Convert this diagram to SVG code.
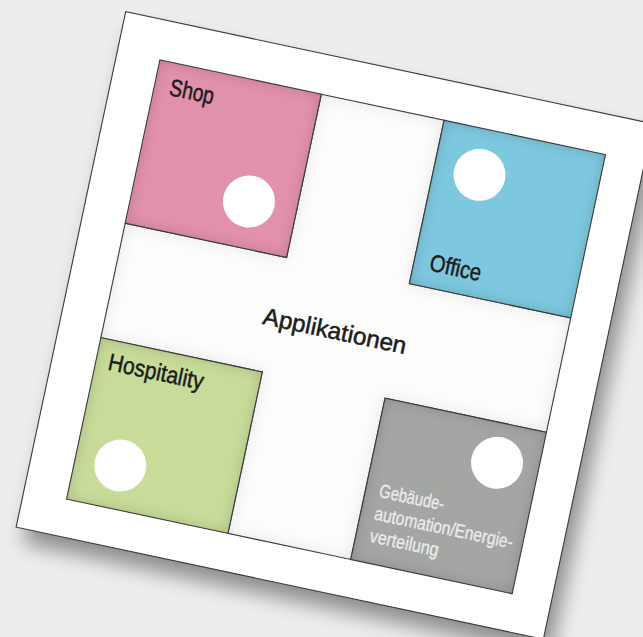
<svg xmlns="http://www.w3.org/2000/svg" width="643" height="637" viewBox="0 0 643 637">
<defs>
<filter id="drop" x="-20%" y="-20%" width="140%" height="140%">
<feGaussianBlur stdDeviation="10"/>
</filter>
<filter id="inset" x="-10%" y="-10%" width="120%" height="120%">
<feFlood flood-color="#000" flood-opacity="0.35" result="f"/>
<feComposite in="f" in2="SourceAlpha" operator="out" result="o"/>
<feGaussianBlur in="o" stdDeviation="7" result="b"/>
<feComposite in="b" in2="SourceAlpha" operator="in" result="s"/>
<feMerge><feMergeNode in="SourceGraphic"/><feMergeNode in="s"/></feMerge>
</filter>
<filter id="insetLight" x="-10%" y="-10%" width="120%" height="120%">
<feFlood flood-color="#000" flood-opacity="0.22" result="f"/>
<feComposite in="f" in2="SourceAlpha" operator="out" result="o"/>
<feGaussianBlur in="o" stdDeviation="8" result="b"/>
<feComposite in="b" in2="SourceAlpha" operator="in" result="s"/>
<feMerge><feMergeNode in="SourceGraphic"/><feMergeNode in="s"/></feMerge>
</filter>
</defs>
<style>
.edge{stroke:#3a3a3a;stroke-width:1.1}
.lbl{font-family:"Liberation Sans",Arial,sans-serif;font-size:24px;fill:#1c1c1c;stroke:#1c1c1c;stroke-width:0.5}
.lbl2{font-family:"Liberation Sans",Arial,sans-serif;font-size:19px;fill:#ececec;stroke:#ececec;stroke-width:0.3}
.dot{fill:#fff}
</style>
<rect width="643" height="637" fill="#ededed"/>
<g transform="translate(125.7 11.7) rotate(12)">
<rect x="10" y="14" width="539" height="527" fill="#000" opacity="0.4" filter="url(#drop)"/>
<g id="card">
<rect x="0" y="0" width="539" height="527" fill="#fff" class="edge"/>
</g>
<g id="applikationen">
<path d="M208.5 40H334V207H499V324H334V489H208.5V324H43.5V207H208.5Z" fill="#fdfdfd" filter="url(#insetLight)"/>
<path d="M208.5 40H334V207H499V324H334V489H208.5V324H43.5V207H208.5Z" fill="none" class="edge"/>
<text class="lbl" x="198" y="277" textLength="146" lengthAdjust="spacingAndGlyphs">Applikationen</text>
</g>
<g id="shop">
<rect x="43.5" y="40" width="165" height="167" fill="#e291ad" filter="url(#inset)"/>
<rect x="43.5" y="40" width="165" height="167" fill="none" class="edge"/>
<circle class="dot" cx="160" cy="160" r="26"/>
<text class="lbl" x="59" y="72.5" textLength="45" lengthAdjust="spacingAndGlyphs">Shop</text>
</g>
<g id="office">
<rect x="334" y="40" width="165" height="167" fill="#7ec8df" filter="url(#inset)"/>
<rect x="334" y="40" width="165" height="167" fill="none" class="edge"/>
<circle class="dot" cx="380" cy="86" r="26"/>
<text class="lbl" x="350" y="190" textLength="52" lengthAdjust="spacingAndGlyphs">Office</text>
</g>
<g id="hospitality">
<rect x="43.5" y="324" width="165" height="165" fill="#c8dc9a" filter="url(#inset)"/>
<rect x="43.5" y="324" width="165" height="165" fill="none" class="edge"/>
<circle class="dot" cx="89" cy="445" r="26"/>
<text class="lbl" x="56" y="354" textLength="97" lengthAdjust="spacingAndGlyphs">Hospitality</text>
</g>
<g id="gebaeude">
<rect x="334" y="324" width="165" height="165" fill="#a4a6a4" filter="url(#inset)"/>
<rect x="334" y="324" width="165" height="165" fill="none" class="edge"/>
<circle class="dot" cx="457" cy="364" r="26"/>
<text class="lbl2" x="348" y="422" textLength="66" lengthAdjust="spacingAndGlyphs">Gebäude-</text>
<text class="lbl2" x="348" y="445" textLength="141" lengthAdjust="spacingAndGlyphs">automation/Energie-</text>
<text class="lbl2" x="348" y="468" textLength="70" lengthAdjust="spacingAndGlyphs">verteilung</text>
</g>
<g id="connectors"/>
</g>
</svg>
